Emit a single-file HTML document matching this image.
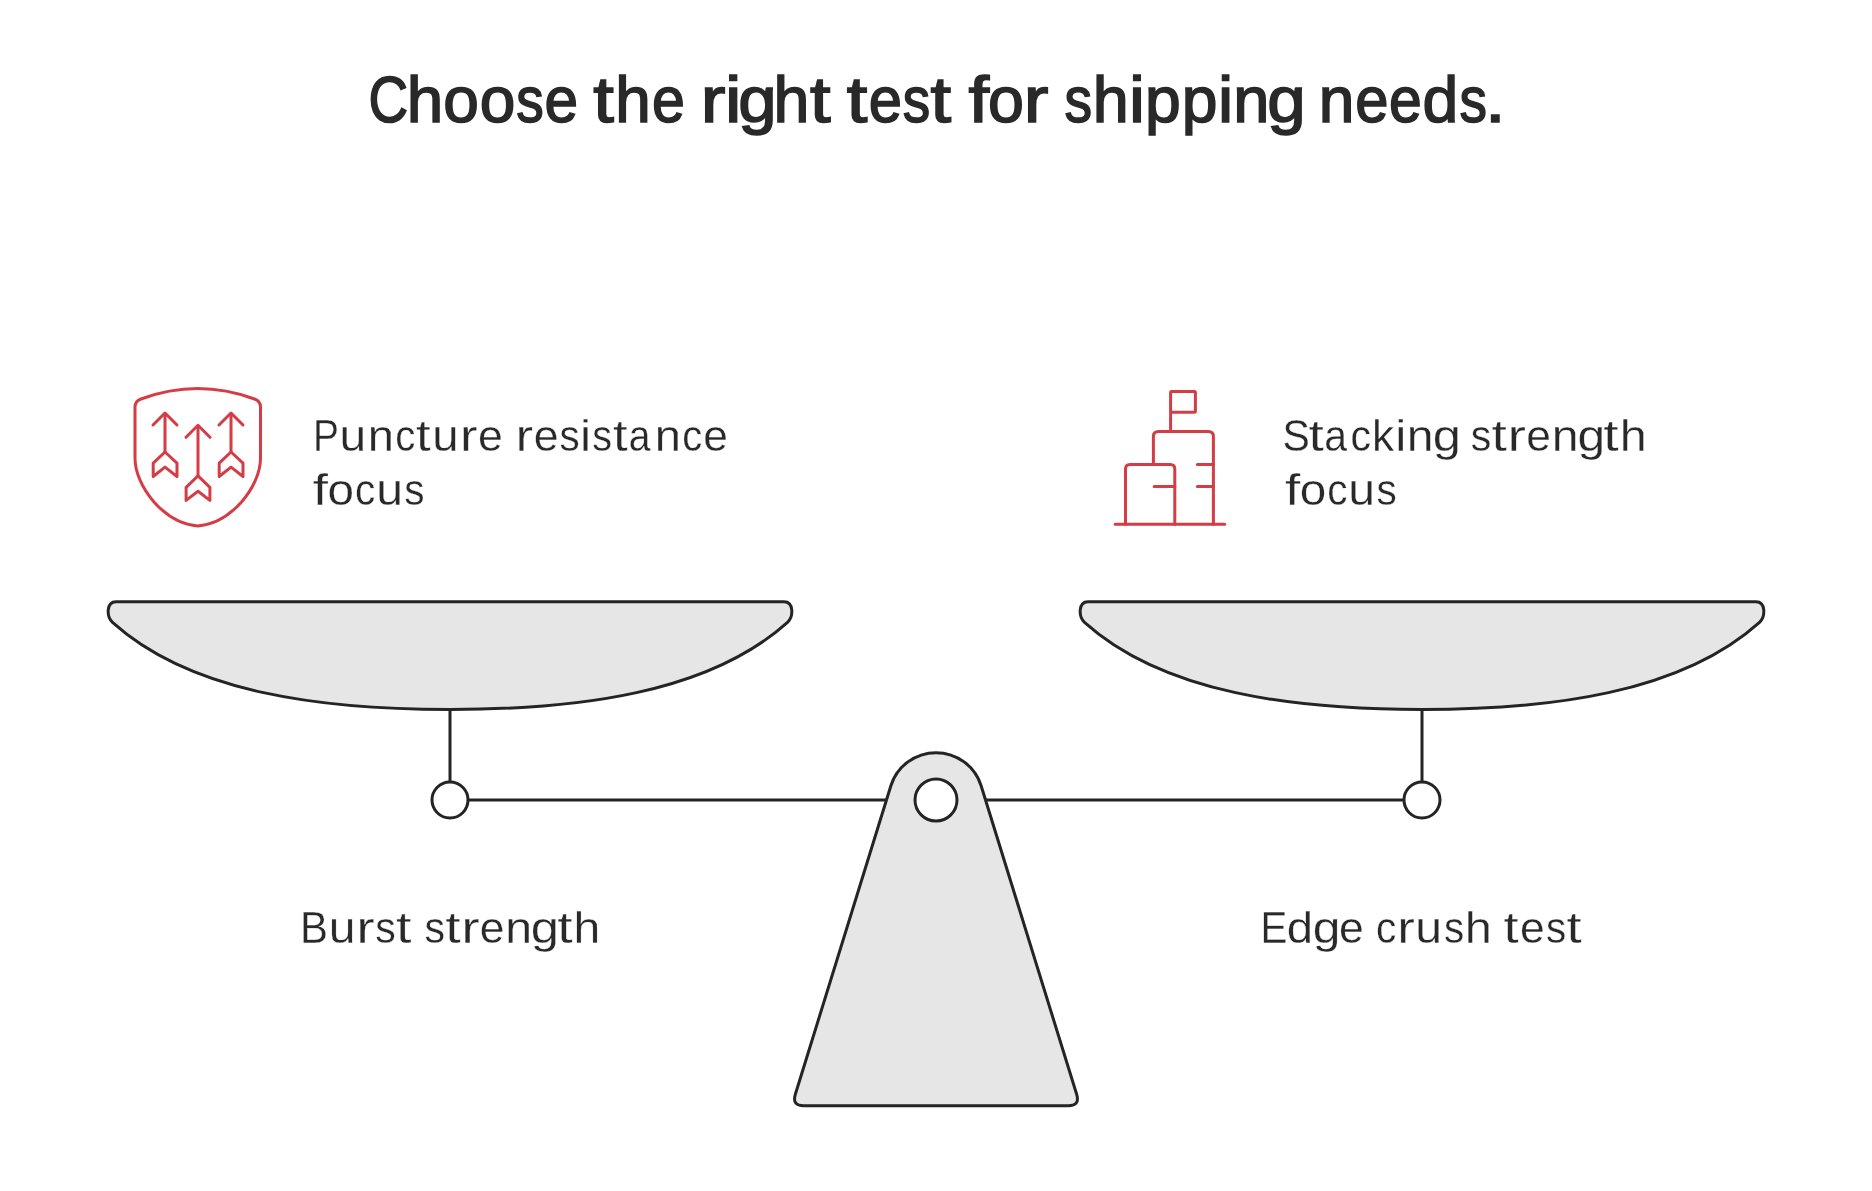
<!DOCTYPE html>
<html>
<head>
<meta charset="utf-8">
<style>
html,body{margin:0;padding:0;background:#ffffff;}
body{width:1872px;height:1191px;overflow:hidden;position:relative;}
svg{position:absolute;left:0;top:0;will-change:transform;}
text{font-family:"Liberation Sans", sans-serif;fill:#292929;}
</style>
</head>
<body>
<svg width="1872" height="1191" viewBox="0 0 1872 1191">
<text transform="translate(368.40 122) scale(0.8435 1)" font-size="65" stroke="#292929" stroke-width="1.6">C</text>
<text transform="translate(406.66 122) scale(1.0096 1)" font-size="65" stroke="#292929" stroke-width="1.6">h</text>
<text transform="translate(443.20 122) scale(0.9848 1)" font-size="65" stroke="#292929" stroke-width="1.6">o</text>
<text transform="translate(479.80 122) scale(0.9848 1)" font-size="65" stroke="#292929" stroke-width="1.6">o</text>
<text transform="translate(516.15 122) scale(0.8450 1)" font-size="65" stroke="#292929" stroke-width="1.6">s</text>
<text transform="translate(544.38 122) scale(0.9283 1)" font-size="65" stroke="#292929" stroke-width="1.6">e</text>
<text transform="translate(593.31 122) scale(1.1412 1)" font-size="65" stroke="#292929" stroke-width="1.6">t</text>
<text transform="translate(615.36 122) scale(0.9820 1)" font-size="65" stroke="#292929" stroke-width="1.6">h</text>
<text transform="translate(652.12 122) scale(0.9096 1)" font-size="65" stroke="#292929" stroke-width="1.6">e</text>
<text transform="translate(700.65 122) scale(1.1412 1)" font-size="65" stroke="#292929" stroke-width="1.6">r</text>
<text transform="translate(724.97 122) scale(1.1350 1)" font-size="65" stroke="#292929" stroke-width="1.6">i</text>
<text transform="translate(738.15 122) scale(1.0606 1)" font-size="65" stroke="#292929" stroke-width="1.6">g</text>
<text transform="translate(773.42 122) scale(0.9924 1)" font-size="65" stroke="#292929" stroke-width="1.6">h</text>
<text transform="translate(809.91 122) scale(1.1412 1)" font-size="65" stroke="#292929" stroke-width="1.6">t</text>
<text transform="translate(846.76 122) scale(1.1412 1)" font-size="65" stroke="#292929" stroke-width="1.6">t</text>
<text transform="translate(868.70 122) scale(0.9190 1)" font-size="65" stroke="#292929" stroke-width="1.6">e</text>
<text transform="translate(902.72 122) scale(0.8435 1)" font-size="65" stroke="#292929" stroke-width="1.6">s</text>
<text transform="translate(930.41 122) scale(1.1412 1)" font-size="65" stroke="#292929" stroke-width="1.6">t</text>
<text transform="translate(968.42 122) scale(1.1412 1)" font-size="65" stroke="#292929" stroke-width="1.6">f</text>
<text transform="translate(987.88 122) scale(0.9941 1)" font-size="65" stroke="#292929" stroke-width="1.6">o</text>
<text transform="translate(1023.85 122) scale(1.1412 1)" font-size="65" stroke="#292929" stroke-width="1.6">r</text>
<text transform="translate(1064.54 122) scale(0.8483 1)" font-size="65" stroke="#292929" stroke-width="1.6">s</text>
<text transform="translate(1092.71 122) scale(0.9958 1)" font-size="65" stroke="#292929" stroke-width="1.6">h</text>
<text transform="translate(1128.97 122) scale(1.1076 1)" font-size="65" stroke="#292929" stroke-width="1.6">i</text>
<text transform="translate(1144.95 122) scale(0.9893 1)" font-size="65" stroke="#292929" stroke-width="1.6">p</text>
<text transform="translate(1181.75 122) scale(0.9893 1)" font-size="65" stroke="#292929" stroke-width="1.6">p</text>
<text transform="translate(1217.96 122) scale(1.0529 1)" font-size="65" stroke="#292929" stroke-width="1.6">i</text>
<text transform="translate(1233.19 122) scale(0.9996 1)" font-size="65" stroke="#292929" stroke-width="1.6">n</text>
<text transform="translate(1267.35 122) scale(1.0639 1)" font-size="65" stroke="#292929" stroke-width="1.6">g</text>
<text transform="translate(1318.63 122) scale(0.9859 1)" font-size="65" stroke="#292929" stroke-width="1.6">n</text>
<text transform="translate(1355.20 122) scale(0.9190 1)" font-size="65" stroke="#292929" stroke-width="1.6">e</text>
<text transform="translate(1389.02 122) scale(0.9065 1)" font-size="65" stroke="#292929" stroke-width="1.6">e</text>
<text transform="translate(1422.49 122) scale(0.9893 1)" font-size="65" stroke="#292929" stroke-width="1.6">d</text>
<text transform="translate(1459.45 122) scale(0.8450 1)" font-size="65" stroke="#292929" stroke-width="1.6">s</text>
<text transform="translate(1484.95 122) scale(1.1412 1)" font-size="65" stroke="#292929" stroke-width="1.6">.</text>
<text transform="translate(312.99 451) scale(0.8653 1)" font-size="45" stroke="#ffffff" stroke-width="0.3">P</text>
<text transform="translate(339.38 451) scale(1.0672 1)" font-size="45" stroke="#ffffff" stroke-width="0.3">u</text>
<text transform="translate(367.77 451) scale(1.0462 1)" font-size="45" stroke="#ffffff" stroke-width="0.3">n</text>
<text transform="translate(395.20 451) scale(0.8917 1)" font-size="45" stroke="#ffffff" stroke-width="0.3">c</text>
<text transform="translate(415.88 451) scale(1.1707 1)" font-size="45" stroke="#ffffff" stroke-width="0.3">t</text>
<text transform="translate(432.33 451) scale(1.0515 1)" font-size="45" stroke="#ffffff" stroke-width="0.3">u</text>
<text transform="translate(459.92 451) scale(1.1707 1)" font-size="45" stroke="#ffffff" stroke-width="0.3">r</text>
<text transform="translate(478.11 451) scale(0.9898 1)" font-size="45" stroke="#ffffff" stroke-width="0.3">e</text>
<text transform="translate(515.42 451) scale(1.1707 1)" font-size="45" stroke="#ffffff" stroke-width="0.3">r</text>
<text transform="translate(533.81 451) scale(0.9898 1)" font-size="45" stroke="#ffffff" stroke-width="0.3">e</text>
<text transform="translate(559.48 451) scale(0.8970 1)" font-size="45" stroke="#ffffff" stroke-width="0.3">s</text>
<text transform="translate(580.05 451) scale(1.1125 1)" font-size="45" stroke="#ffffff" stroke-width="0.3">i</text>
<text transform="translate(592.30 451) scale(0.8766 1)" font-size="45" stroke="#ffffff" stroke-width="0.3">s</text>
<text transform="translate(612.93 451) scale(1.1707 1)" font-size="45" stroke="#ffffff" stroke-width="0.3">t</text>
<text transform="translate(628.84 451) scale(0.8653 1)" font-size="45" stroke="#ffffff" stroke-width="0.3">a</text>
<text transform="translate(654.77 451) scale(1.0462 1)" font-size="45" stroke="#ffffff" stroke-width="0.3">n</text>
<text transform="translate(682.31 451) scale(0.8865 1)" font-size="45" stroke="#ffffff" stroke-width="0.3">c</text>
<text transform="translate(703.32 451) scale(0.9850 1)" font-size="45" stroke="#ffffff" stroke-width="0.3">e</text>
<text transform="translate(312.76 505) scale(1.2178 1)" font-size="45" stroke="#ffffff" stroke-width="0.3">f</text>
<text transform="translate(327.60 505) scale(1.0589 1)" font-size="45" stroke="#ffffff" stroke-width="0.3">o</text>
<text transform="translate(355.05 505) scale(0.9001 1)" font-size="45" stroke="#ffffff" stroke-width="0.3">c</text>
<text transform="translate(376.17 505) scale(1.0724 1)" font-size="45" stroke="#ffffff" stroke-width="0.3">u</text>
<text transform="translate(404.24 505) scale(0.9001 1)" font-size="45" stroke="#ffffff" stroke-width="0.3">s</text>
<text transform="translate(1282.55 451) scale(0.9102 1)" font-size="45" stroke="#ffffff" stroke-width="0.3">S</text>
<text transform="translate(1308.54 451) scale(1.2315 1)" font-size="45" stroke="#ffffff" stroke-width="0.3">t</text>
<text transform="translate(1324.24 451) scale(0.9102 1)" font-size="45" stroke="#ffffff" stroke-width="0.3">a</text>
<text transform="translate(1350.53 451) scale(0.9102 1)" font-size="45" stroke="#ffffff" stroke-width="0.3">c</text>
<text transform="translate(1372.02 451) scale(0.9829 1)" font-size="45" stroke="#ffffff" stroke-width="0.3">k</text>
<text transform="translate(1395.25 451) scale(1.1125 1)" font-size="45" stroke="#ffffff" stroke-width="0.3">i</text>
<text transform="translate(1406.81 451) scale(1.0672 1)" font-size="45" stroke="#ffffff" stroke-width="0.3">n</text>
<text transform="translate(1432.77 451) scale(1.1267 1)" font-size="45" stroke="#ffffff" stroke-width="0.3">g</text>
<text transform="translate(1470.63 451) scale(0.9102 1)" font-size="45" stroke="#ffffff" stroke-width="0.3">s</text>
<text transform="translate(1491.44 451) scale(1.2315 1)" font-size="45" stroke="#ffffff" stroke-width="0.3">t</text>
<text transform="translate(1507.39 451) scale(1.2315 1)" font-size="45" stroke="#ffffff" stroke-width="0.3">r</text>
<text transform="translate(1526.22 451) scale(0.9850 1)" font-size="45" stroke="#ffffff" stroke-width="0.3">e</text>
<text transform="translate(1551.71 451) scale(1.0672 1)" font-size="45" stroke="#ffffff" stroke-width="0.3">n</text>
<text transform="translate(1577.61 451) scale(1.1069 1)" font-size="45" stroke="#ffffff" stroke-width="0.3">g</text>
<text transform="translate(1603.26 451) scale(1.2270 1)" font-size="45" stroke="#ffffff" stroke-width="0.3">t</text>
<text transform="translate(1619.65 451) scale(1.0746 1)" font-size="45" stroke="#ffffff" stroke-width="0.3">h</text>
<text transform="translate(1284.96 505) scale(1.2178 1)" font-size="45" stroke="#ffffff" stroke-width="0.3">f</text>
<text transform="translate(1299.80 505) scale(1.0589 1)" font-size="45" stroke="#ffffff" stroke-width="0.3">o</text>
<text transform="translate(1327.25 505) scale(0.9001 1)" font-size="45" stroke="#ffffff" stroke-width="0.3">c</text>
<text transform="translate(1348.37 505) scale(1.0724 1)" font-size="45" stroke="#ffffff" stroke-width="0.3">u</text>
<text transform="translate(1376.44 505) scale(0.9001 1)" font-size="45" stroke="#ffffff" stroke-width="0.3">s</text>
<text transform="translate(299.95 943) scale(0.9353 1)" font-size="45" stroke="#ffffff" stroke-width="0.3">B</text>
<text transform="translate(328.78 943) scale(1.0672 1)" font-size="45" stroke="#ffffff" stroke-width="0.3">u</text>
<text transform="translate(356.28 943) scale(1.2332 1)" font-size="45" stroke="#ffffff" stroke-width="0.3">r</text>
<text transform="translate(375.27 943) scale(0.9115 1)" font-size="45" stroke="#ffffff" stroke-width="0.3">s</text>
<text transform="translate(396.07 943) scale(1.2332 1)" font-size="45" stroke="#ffffff" stroke-width="0.3">t</text>
<text transform="translate(424.52 943) scale(0.9115 1)" font-size="45" stroke="#ffffff" stroke-width="0.3">s</text>
<text transform="translate(445.16 943) scale(1.2270 1)" font-size="45" stroke="#ffffff" stroke-width="0.3">t</text>
<text transform="translate(461.28 943) scale(1.2332 1)" font-size="45" stroke="#ffffff" stroke-width="0.3">r</text>
<text transform="translate(479.82 943) scale(0.9850 1)" font-size="45" stroke="#ffffff" stroke-width="0.3">e</text>
<text transform="translate(505.30 943) scale(1.0724 1)" font-size="45" stroke="#ffffff" stroke-width="0.3">n</text>
<text transform="translate(530.87 943) scale(1.1267 1)" font-size="45" stroke="#ffffff" stroke-width="0.3">g</text>
<text transform="translate(557.16 943) scale(1.2270 1)" font-size="45" stroke="#ffffff" stroke-width="0.3">t</text>
<text transform="translate(573.56 943) scale(1.0693 1)" font-size="45" stroke="#ffffff" stroke-width="0.3">h</text>
<text transform="translate(1260.59 943) scale(0.8947 1)" font-size="45" stroke="#ffffff" stroke-width="0.3">E</text>
<text transform="translate(1286.81 943) scale(1.0525 1)" font-size="45" stroke="#ffffff" stroke-width="0.3">d</text>
<text transform="translate(1312.81 943) scale(1.1069 1)" font-size="45" stroke="#ffffff" stroke-width="0.3">g</text>
<text transform="translate(1339.01 943) scale(0.9898 1)" font-size="45" stroke="#ffffff" stroke-width="0.3">e</text>
<text transform="translate(1376.08 943) scale(0.9020 1)" font-size="45" stroke="#ffffff" stroke-width="0.3">c</text>
<text transform="translate(1397.29 943) scale(1.1733 1)" font-size="45" stroke="#ffffff" stroke-width="0.3">r</text>
<text transform="translate(1415.27 943) scale(1.0724 1)" font-size="45" stroke="#ffffff" stroke-width="0.3">u</text>
<text transform="translate(1444.00 943) scale(0.8947 1)" font-size="45" stroke="#ffffff" stroke-width="0.3">s</text>
<text transform="translate(1464.73 943) scale(1.0798 1)" font-size="45" stroke="#ffffff" stroke-width="0.3">h</text>
<text transform="translate(1503.62 943) scale(1.2104 1)" font-size="45" stroke="#ffffff" stroke-width="0.3">t</text>
<text transform="translate(1520.12 943) scale(0.9850 1)" font-size="45" stroke="#ffffff" stroke-width="0.3">e</text>
<text transform="translate(1546.05 943) scale(0.8947 1)" font-size="45" stroke="#ffffff" stroke-width="0.3">s</text>
<text transform="translate(1566.62 943) scale(1.2104 1)" font-size="45" stroke="#ffffff" stroke-width="0.3">t</text>

  <!-- Scale: beam -->
  <g stroke="#242424" stroke-width="3" fill="none">
    <line x1="450" y1="800" x2="1422" y2="800"/>
    <line x1="450" y1="709" x2="450" y2="782"/>
    <line x1="1422" y1="709" x2="1422" y2="782"/>
  </g>
  <!-- Pans -->
  <g stroke="#242424" stroke-width="3" fill="#E6E6E6" stroke-linejoin="round">
    <path id="panL" d="M116 601.7 H784 C794 601.7 793.5 616.9 787.5 622.3 C708.35 693.58 576.5 709.5 450 709.5 C323.5 709.5 191.65 693.58 112.5 622.3 C106.5 616.9 106 601.7 116 601.7 Z"/>
    <path id="panR" transform="translate(972,0)" d="M116 601.7 H784 C794 601.7 793.5 616.9 787.5 622.3 C708.35 693.58 576.5 709.5 450 709.5 C323.5 709.5 191.65 693.58 112.5 622.3 C106.5 616.9 106 601.7 116 601.7 Z"/>
  </g>
  <!-- end circles -->
  <g stroke="#242424" stroke-width="3" fill="#ffffff">
    <circle cx="450" cy="800" r="18"/>
    <circle cx="1422" cy="800" r="18"/>
  </g>
  <!-- Fulcrum -->
  <g stroke="#242424" stroke-width="3" fill="#E6E6E6" stroke-linejoin="round">
    <path id="fulcrum" d="M890.8 786 A47.3 47.3 0 0 1 981.2 786 L1076.65 1094.3 Q1080.2 1105.8 1068.2 1105.8 L803.8 1105.8 Q791.8 1105.8 795.35 1094.3 Z"/>
    <circle cx="936" cy="800" r="21" fill="#ffffff"/>
  </g>

  <!-- Shield icon -->
  <g stroke="#D43D45" stroke-width="3" fill="none" stroke-linejoin="round" stroke-linecap="round">
    <path d="M135 458 V407 Q135 401.2 141 399 Q197.75 378 254.5 399 Q260.5 401.2 260.5 407 V458 C260.5 486.9 230.8 523.5 197.75 525.9 C164.7 523.5 135 486.9 135 458 Z"/>
    <!-- left arrow -->
    <path d="M165 414 V452"/>
    <path d="M153 425 L165 413 L177 425"/>
    <path d="M165 452 L153.2 463.1 V476.5 L165 467.1 L177 476.5 V463.1 Z"/>
    <!-- middle arrow -->
    <path d="M198 426 V476"/>
    <path d="M186 437.3 L198 425.3 L210 437.3"/>
    <path d="M198 475.9 L186.1 487.3 V500.4 L198 491.3 L209.9 500.4 V487.3 Z"/>
    <!-- right arrow -->
    <path d="M231 414 V452"/>
    <path d="M219 425 L231 413 L243 425"/>
    <path d="M231 452 L219.2 463.1 V476.5 L231 467.1 L243 476.5 V463.1 Z"/>
  </g>

  <!-- Stacking icon -->
  <g stroke="#D43D45" stroke-width="3" fill="none" stroke-linejoin="round" stroke-linecap="round">
    <path d="M1115.2 524.2 H1224.7"/>
    <path d="M1125.5 524.2 V469 Q1125.5 464.4 1130 464.4 H1170.3 Q1174.8 464.4 1174.8 469 V524.2"/>
    <path d="M1153.4 464.4 V436.4 Q1153.4 431.4 1158.4 431.4 H1208.4 Q1213.4 431.4 1213.4 436.4 V524.2"/>
    <path d="M1170.6 431.4 V392.4 Q1170.6 391.4 1171.6 391.4 H1194.4 Q1195.4 391.4 1195.4 392.4 V411.2 Q1195.4 412.2 1194.4 412.2 H1170.6"/>
    <path d="M1154.2 486.6 H1174.8"/>
    <path d="M1197.4 464.4 H1213.4"/>
    <path d="M1197.4 486.6 H1213.4"/>
  </g>
</svg>
</body>
</html>
